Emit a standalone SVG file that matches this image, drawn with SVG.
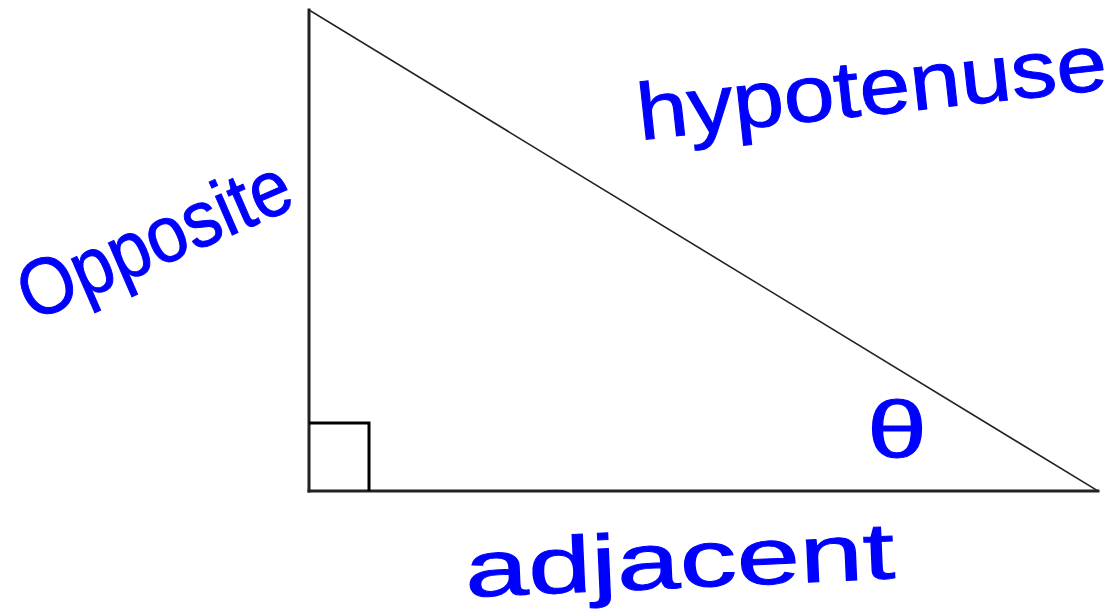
<svg xmlns="http://www.w3.org/2000/svg" width="1120" height="613" viewBox="0 0 1120 613">
<style>
.hand{font-family:"Liberation Sans","DejaVu Sans",sans-serif;fill:#0000ff;stroke:#0000ff;stroke-width:1;font-size:80px}
.edge{stroke:#222;fill:none;stroke-linecap:square}
</style>
<rect width="1120" height="613" fill="#fff"/>
<g id="triangle">
<line class="edge" x1="309" y1="10" x2="309" y2="491" stroke-width="3"/>
<line class="edge" x1="309" y1="491" x2="1098" y2="491" stroke-width="3"/>
<line class="edge" x1="309" y1="10" x2="1098" y2="491" stroke-width="1.6"/>
</g>
<g id="right-angle">
<polyline points="309,423 369,423 369,491" fill="none" stroke="#000" stroke-width="3"/>
</g>
<g id="label-opposite">
<text class="hand" transform="translate(32,322) rotate(-23.5)" font-size="84" textLength="290" lengthAdjust="spacingAndGlyphs">Opposite</text>
</g>
<g id="label-hypotenuse">
<text class="hand" transform="translate(640,140) rotate(-6.2)" font-size="90" textLength="472" lengthAdjust="spacingAndGlyphs">hypotenuse</text>
</g>
<g id="label-adjacent">
<text class="hand" transform="translate(466,597) rotate(-2.5)" font-size="86" textLength="430" lengthAdjust="spacingAndGlyphs">adjacent</text>
</g>
<g id="label-theta">
<text class="hand" x="897" y="457" text-anchor="middle" font-size="84" textLength="60" lengthAdjust="spacingAndGlyphs">θ</text>
</g>
</svg>
